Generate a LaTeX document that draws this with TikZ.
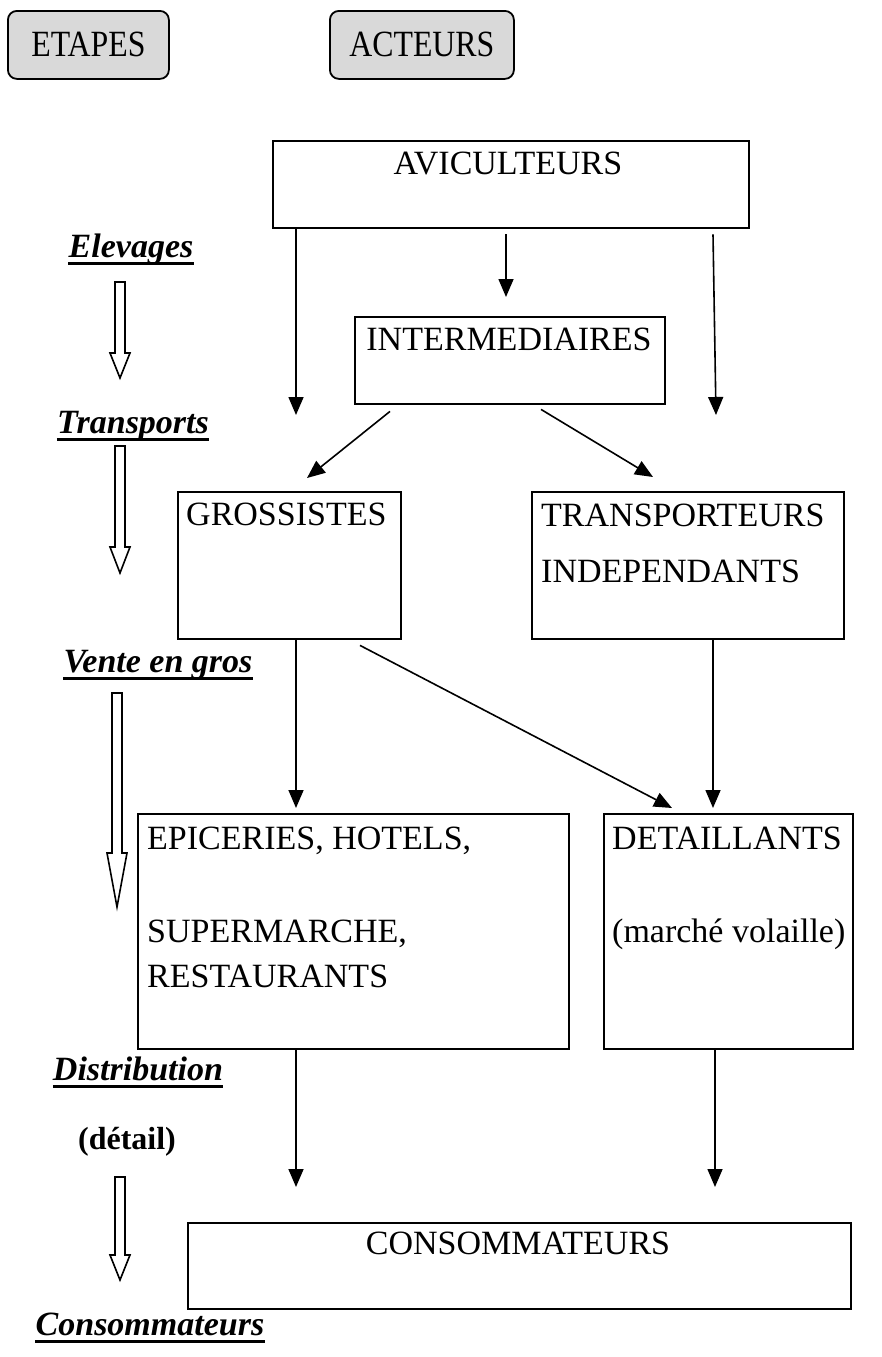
\documentclass[tikz,border=0pt]{standalone}
\usepackage{fontspec}
\usepackage{graphicx}
\setmainfont{Liberation Serif}
\usetikzlibrary{arrows.meta,calc}

\tikzset{
  box/.style={draw, line width=2.4pt, inner sep=0pt, anchor=north west},
  tag/.style={draw, line width=1.8pt, rounded corners=9pt, fill=black!15,
              inner sep=0pt, anchor=north west, font=\fontsize{37}{42}\selectfont},
  body/.style={font=\fontsize{34}{40}\selectfont, inner sep=0pt, anchor=base},
  bodyleft/.style={body, anchor=base west},
  stage/.style={font=\fontsize{34}{40}\selectfont\bfseries\itshape, inner sep=0pt, anchor=base},
  conn/.style={line width=1.6pt, -{Triangle[length=18pt,width=15pt]}},
  ul/.style={line width=3pt},
  hollow/.style={draw, line width=1.6pt, fill=white},
}

% hollow stage arrow: x, top y, tip y, head length, head half-width
\newcommand\stagearrow[5]{%
  \draw[hollow] (#1-5,#2) -- (#1+5,#2) -- (#1+5,#3-#4) -- (#1+#5,#3-#4)
    -- (#1,#3) -- (#1-#5,#3-#4) -- (#1-5,#3-#4) -- cycle;}
\newcommand\narrow[1]{\scalebox{0.86}[1]{#1}}

\begin{document}
\begin{tikzpicture}[x=1pt, y=-1pt]
\useasboundingbox (0,0) rectangle (882,1357);

% column headers
\node[tag, minimum width=161pt, minimum height=68pt] (etapes) at (7,10) {\narrow{ETAPES}};
\node[tag, minimum width=184pt, minimum height=68pt] (acteurs) at (329,10) {\narrow{ACTEURS}};

% actor boxes
\node[box, minimum width=476pt, minimum height=87pt] (avi) at (272,140) {};
\node[box, minimum width=310pt, minimum height=87pt] (inter) at (354,316) {};
\node[box, minimum width=223pt, minimum height=147pt] (gros) at (177,491) {};
\node[box, minimum width=312pt, minimum height=147pt] (trans) at (531,491) {};
\node[box, minimum width=431pt, minimum height=235pt] (epic) at (137,813) {};
\node[box, minimum width=249pt, minimum height=235pt] (detail) at (603,813) {};
\node[box, minimum width=663pt, minimum height=86pt] (cons) at (187,1222) {};

% box texts
\node[body] (avit) at (508,174) {AVICULTEURS};
\node[body] (intert) at (509,350) {INTERMEDIAIRES};
\node[bodyleft] (grost) at (186,525) {GROSSISTES};
\node[bodyleft] (transa) at (541,526) {TRANSPORTEURS};
\node[bodyleft] (transb) at (541,582) {INDEPENDANTS};
\node[bodyleft] (epica) at (147,849) {EPICERIES, HOTELS,};
\node[bodyleft] (epicb) at (147,942) {SUPERMARCHE,};
\node[bodyleft] (epicc) at (147,987) {RESTAURANTS};
\node[bodyleft] (deta) at (612,849) {DETAILLANTS};
\node[bodyleft] (detb) at (612,942) {(marché volaille)};
\node[body] (const) at (518,1254) {CONSOMMATEURS};

% arrow tips
\coordinate (a1) at (296,415);
\coordinate (a2) at (506,297);
\coordinate (a3) at (716,415);
\coordinate (i1) at (307,478);
\coordinate (i2) at (653,477);
\coordinate (g1) at (296,808);
\coordinate (g2) at (672,808);
\coordinate (t1) at (713,808);
\coordinate (e1) at (296,1187);
\coordinate (d1) at (715,1187);

% flows between actors
\draw[conn] (avi.south -| a1) -- (a1);
\draw[conn] ([shift={(0,5)}]avi.south -| a2) -- (a2);
\draw[conn] ([shift={(-3,5)}]avi.south -| a3) -- (a3);
\draw[conn] ([shift={(36,6)}]inter.south west) -- (i1);
\draw[conn] ([shift={(187,4)}]inter.south west) -- (i2);
\draw[conn] (gros.south -| g1) -- (g1);
\draw[conn] ([shift={(183,5)}]gros.south west) -- (g2);
\draw[conn] (trans.south -| t1) -- (t1);
\draw[conn] (epic.south -| e1) -- (e1);
\draw[conn] (detail.south -| d1) -- (d1);

% stages
\node[stage] (s1) at (131,257) {Elevages};
\node[stage] (s2) at (133,433) {Transports};
\node[stage] (s3) at (158,672) {Vente en gros};
\node[stage] (s4) at (138,1080) {Distribution};
\node[font=\fontsize{32}{36}\selectfont\bfseries, inner sep=0pt, anchor=base] (s4b) at (127,1149) {(détail)};
\node[stage] (s5) at (150,1335) {Consommateurs};
\foreach \s in {s1,s2,s3,s4,s5}
  \draw[ul] ([yshift=-6pt]\s.base west) -- ([yshift=-6pt]\s.base east);

\stagearrow{120}{282}{378}{25}{10}
\stagearrow{120}{446}{573}{26}{10}
\stagearrow{117}{693}{907}{54}{10}
\stagearrow{120}{1177}{1280}{25}{10}
\end{tikzpicture}
\end{document}
